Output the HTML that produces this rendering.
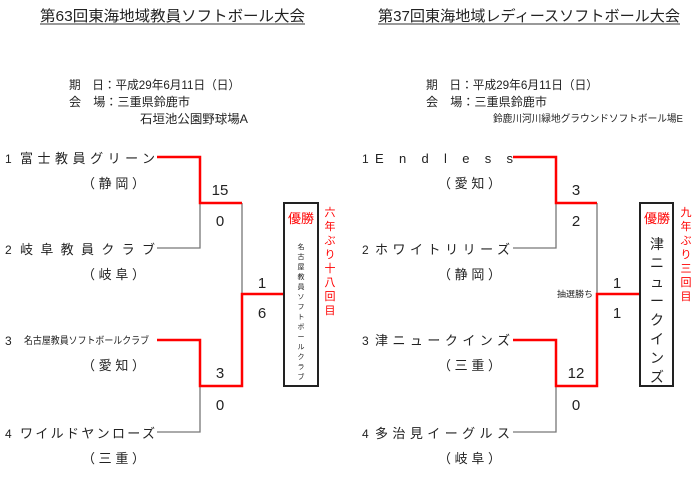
<!DOCTYPE html>
<html><head><meta charset="utf-8"><style>
html,body{margin:0;padding:0;background:#fff;}
svg{display:block;}
text{font-family:"Liberation Sans","Noto Sans CJK JP",sans-serif;fill:#222;}
</style></head><body>
<svg width="700" height="478" viewBox="0 0 700 478" xmlns="http://www.w3.org/2000/svg">
<!-- Titles -->
<text x="40" y="21" font-size="15" textLength="265" lengthAdjust="spacingAndGlyphs">第63回東海地域教員ソフトボール大会</text>
<line x1="40" y1="24" x2="305" y2="24" stroke="#333" stroke-width="1"/>
<text x="378" y="21" font-size="15" textLength="302" lengthAdjust="spacingAndGlyphs">第37回東海地域レディースソフトボール大会</text>
<line x1="378" y1="24" x2="680" y2="24" stroke="#333" stroke-width="1"/>

<!-- Info left -->
<text x="69" y="89" font-size="12" textLength="171" lengthAdjust="spacingAndGlyphs">期　日：平成29年6月11日（日）</text>
<text x="69" y="106" font-size="12" textLength="121" lengthAdjust="spacingAndGlyphs">会　場：三重県鈴鹿市</text>
<text x="140" y="123" font-size="12" textLength="108" lengthAdjust="spacingAndGlyphs">石垣池公園野球場A</text>
<!-- Info right -->
<text x="426" y="89" font-size="12" textLength="172" lengthAdjust="spacingAndGlyphs">期　日：平成29年6月11日（日）</text>
<text x="426" y="106" font-size="12" textLength="121" lengthAdjust="spacingAndGlyphs">会　場：三重県鈴鹿市</text>
<text x="493" y="122" font-size="10" textLength="190" lengthAdjust="spacingAndGlyphs">鈴鹿川河川緑地グラウンドソフトボール場E</text>

<!-- LEFT bracket -->
<g fill="none" stroke-width="1.3" stroke="#777">
<polyline points="157,248 200,248 200,203"/>
<polyline points="242,203 242,294"/>
<polyline points="200,386 200,432 157,432"/>
</g>
<g fill="none" stroke="#ff0000" stroke-width="2.5">
<polyline points="157,157 200,157 200,203 242,203"/>
<polyline points="157,340 200,340 200,386 242,386 242,294 284,294"/>
</g>
<rect x="284" y="203" width="34" height="183" fill="#fff" stroke="#222" stroke-width="2"/>

<g font-size="13">
<text x="5" y="163" font-size="12">1</text>
<text x="20" y="163" textLength="135" lengthAdjust="spacing">富士教員グリーン</text>
<text x="82" y="188" textLength="63" lengthAdjust="spacing">（静岡）</text>
<text x="5" y="254" font-size="12">2</text>
<text x="20" y="254" textLength="135" lengthAdjust="spacing">岐阜教員クラブ</text>
<text x="82" y="279" textLength="63" lengthAdjust="spacing">（岐阜）</text>
<text x="5" y="345" font-size="12">3</text>
<text x="24" y="344" font-size="10" textLength="125" lengthAdjust="spacingAndGlyphs">名古屋教員ソフトボールクラブ</text>
<text x="82" y="370" textLength="63" lengthAdjust="spacing">（愛知）</text>
<text x="5" y="438" font-size="12">4</text>
<text x="20" y="438" textLength="135" lengthAdjust="spacing">ワイルドヤンローズ</text>
<text x="82" y="463" textLength="63" lengthAdjust="spacing">（三重）</text>
</g>
<g font-size="15" fill="#333" text-anchor="middle">
<text x="220" y="195">15</text>
<text x="220" y="226">0</text>
<text x="262" y="288">1</text>
<text x="262" y="318">6</text>
<text x="220" y="378">3</text>
<text x="220" y="410">0</text>
</g>
<text x="301" y="223" font-size="13" text-anchor="middle" style="fill:#ff0000">優勝</text>
<g font-size="7" text-anchor="middle">
<text x="301" y="249">名</text><text x="301" y="259">古</text><text x="301" y="269">屋</text><text x="301" y="279">教</text><text x="301" y="289">員</text><text x="301" y="299">ソ</text><text x="301" y="309">フ</text><text x="301" y="319">ト</text><text x="301" y="329">ボ</text><text x="301" y="339">ー</text><text x="301" y="349">ル</text><text x="301" y="359">ク</text><text x="301" y="369">ラ</text><text x="301" y="379">ブ</text>
</g>
<g font-size="11" text-anchor="middle" style="fill:#ff0000">
<text x="330" y="216" style="fill:#ff0000">六</text><text x="330" y="230" style="fill:#ff0000">年</text><text x="330" y="244" style="fill:#ff0000">ぶ</text><text x="330" y="258" style="fill:#ff0000">り</text><text x="330" y="272" style="fill:#ff0000">十</text><text x="330" y="286" style="fill:#ff0000">八</text><text x="330" y="300" style="fill:#ff0000">回</text><text x="330" y="314" style="fill:#ff0000">目</text>
</g>

<!-- RIGHT bracket -->
<g fill="none" stroke-width="1.3" stroke="#777">
<polyline points="513,248 556,248 556,203"/>
<polyline points="597,203 597,294"/>
<polyline points="556,386 556,432 513,432"/>
</g>
<g fill="none" stroke="#ff0000" stroke-width="2.5">
<polyline points="513,157 556,157 556,203 597,203"/>
<polyline points="513,340 556,340 556,386 597,386 597,294 640,294"/>
</g>
<rect x="640" y="203" width="33" height="183" fill="#fff" stroke="#222" stroke-width="2"/>

<g font-size="13">
<text x="362" y="163" font-size="12">1</text>
<text x="375" y="163" textLength="138" lengthAdjust="spacing">Endless</text>
<text x="438" y="188" textLength="63" lengthAdjust="spacing">（愛知）</text>
<text x="362" y="254" font-size="12">2</text>
<text x="375" y="254" textLength="135" lengthAdjust="spacing">ホワイトリリーズ</text>
<text x="438" y="279" textLength="63" lengthAdjust="spacing">（静岡）</text>
<text x="362" y="345" font-size="12">3</text>
<text x="375" y="345" textLength="135" lengthAdjust="spacing">津ニュークインズ</text>
<text x="438" y="370" textLength="63" lengthAdjust="spacing">（三重）</text>
<text x="362" y="438" font-size="12">4</text>
<text x="375" y="438" textLength="135" lengthAdjust="spacing">多治見イーグルス</text>
<text x="438" y="463" textLength="63" lengthAdjust="spacing">（岐阜）</text>
</g>
<text x="557" y="297" font-size="8.5" textLength="36" lengthAdjust="spacingAndGlyphs">抽選勝ち</text>
<g font-size="15" fill="#333" text-anchor="middle">
<text x="576" y="195">3</text>
<text x="576" y="226">2</text>
<text x="617" y="288">1</text>
<text x="617" y="318">1</text>
<text x="576" y="378">12</text>
<text x="576" y="410">0</text>
</g>
<text x="657" y="223" font-size="13" text-anchor="middle" style="fill:#ff0000">優勝</text>
<g font-size="14" text-anchor="middle">
<text x="657" y="249">津</text><text x="657" y="268">ニ</text><text x="657" y="287">ュ</text><text x="657" y="306">ー</text><text x="657" y="325">ク</text><text x="657" y="344">イ</text><text x="657" y="363">ン</text><text x="657" y="382">ズ</text>
</g>
<g font-size="11" text-anchor="middle">
<text x="686" y="216" style="fill:#ff0000">九</text><text x="686" y="230" style="fill:#ff0000">年</text><text x="686" y="244" style="fill:#ff0000">ぶ</text><text x="686" y="258" style="fill:#ff0000">り</text><text x="686" y="272" style="fill:#ff0000">三</text><text x="686" y="286" style="fill:#ff0000">回</text><text x="686" y="300" style="fill:#ff0000">目</text>
</g>
</svg>
</body></html>
